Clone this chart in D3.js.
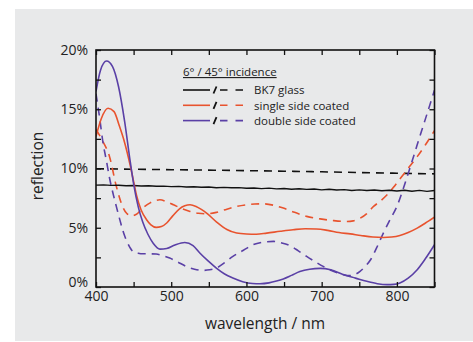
<!DOCTYPE html>
<html><head><meta charset="utf-8">
<script src="https://cdn.jsdelivr.net/npm/d3@7"></script>
<style>
html,body{margin:0;padding:0;background:#fff;}
svg{display:block;font-family:"Open Sans",sans-serif;}
</style></head>
<body>
<svg id="c" width="473" height="342"></svg>
<script>
// ---- data ----
const xTicks = [400, 500, 600, 700, 800];
const yTicks = [0, 5, 10, 15, 20];
const yTickLabels = ["0%", "5%", "10%", "15%", "20%"];
const legendTitle = "6° / 45° incidence";
const seriesNames = ["BK7 glass", "single side coated", "double side coated"];
const seriesColors = ["#111111", "#e8532e", "#5a40a6"];

const bk7SolidX = [400,410,420,430,440,450,460,470,480,490,500,510,520,530,540,550,560,570,580,590,600,610,620,630,640,650,660,670,680,690,700,710,720,730,740,750,760,770,780,790,800,810,820,830,840,850];
const bk7SolidY = [8.6,8.62,8.58,8.59,8.55,8.56,8.52,8.54,8.5,8.51,8.47,8.49,8.44,8.46,8.42,8.44,8.38,8.41,8.37,8.39,8.33,8.36,8.3,8.34,8.28,8.31,8.25,8.29,8.24,8.27,8.2,8.25,8.18,8.22,8.15,8.2,8.14,8.19,8.12,8.17,8.1,8.16,8.08,8.15,8.07,8.14];
const bk7DashX = [400, 500, 600, 700, 800, 850];
const bk7DashY = [9.98, 9.9, 9.82, 9.72, 9.6, 9.55];

const singleSolidX = [400,407,416,424,431,438,445,450,454,460,467,473,480,487,494,502,511,518,525,533,540,547,560,574,587,600,613,627,645,662,678,693,708,723,738,752,768,782,793,804,815,827,838,850];
const singleSolidY = [12.7,14.2,15.08,14.8,13.6,12.2,10.4,8.9,7.7,6.5,5.7,5.25,5.03,5.1,5.4,6.0,6.6,6.85,6.94,6.8,6.55,6.24,5.5,4.85,4.55,4.47,4.45,4.55,4.7,4.83,4.92,4.9,4.78,4.6,4.48,4.35,4.22,4.18,4.22,4.35,4.6,4.97,5.4,5.9];
const singleDashX = [400,409,418,427,436,441,447,455,462,472,485,494,503,514,525,536,547,560,574,587,600,611,622,636,649,664,680,698,716,733,742,751,760,769,778,787,796,805,816,827,838,850];
const singleDashY = [13.3,12.3,11.0,8.5,6.7,6.2,6.0,6.2,6.66,7.1,7.36,7.2,6.94,6.62,6.38,6.22,6.18,6.3,6.57,6.8,6.94,7.0,7.02,6.9,6.66,6.3,5.96,5.75,5.6,5.53,5.58,5.8,6.2,6.8,7.25,7.78,8.45,9.19,10.1,11.0,12.0,13.2];

const doubleSolidX = [400,406,414,422,430,438,445,450,456,462,469,476,485,494,505,518,529,538,549,560,571,582,595,608,618,630,640,649,660,671,684,698,712,729,745,760,774,787,796,804,815,827,838,850];
const doubleSolidY = [16.5,18.3,19.07,18.6,16.9,14.0,10.8,8.7,6.8,5.5,4.45,3.7,3.2,3.25,3.55,3.76,3.5,2.87,2.2,1.6,1.1,0.76,0.45,0.3,0.28,0.35,0.5,0.68,0.98,1.3,1.5,1.57,1.45,1.04,0.75,0.48,0.28,0.2,0.22,0.34,0.75,1.46,2.4,3.57];
const doubleDashX = [400,405,409,414,418,423,427,432,436,440,445,449,456,463,472,480,489,498,509,520,531,542,551,560,571,582,596,609,622,636,647,658,669,680,691,702,713,725,738,751,758,765,773,782,791,800,809,818,827,836,843,850];
const doubleDashY = [16.3,14.2,12.3,10.6,9.2,7.8,6.8,5.6,4.7,4.0,3.35,3.0,2.85,2.8,2.8,2.78,2.65,2.44,2.1,1.74,1.5,1.4,1.45,1.6,2.05,2.58,3.1,3.57,3.78,3.85,3.72,3.48,3.05,2.58,2.15,1.74,1.4,1.12,0.96,1.32,1.75,2.3,3.3,4.55,5.7,6.8,8.4,10.17,12.0,13.8,15.2,16.6];

// ---- layout ----
const svg = d3.select("#c");
svg.append("rect").attr("x",15).attr("y",9).attr("width",458).attr("height",332).attr("fill","#e8e9ea");

const L = 96, R = 434.5, T = 50, B = 287;
const x = d3.scaleLinear().domain([400, 850]).range([L, R]);
const y = d3.scaleLinear().domain([0, 20]).range([B, T]);

svg.append("clipPath").attr("id","clip").append("rect").attr("x",L).attr("y",T).attr("width",R-L).attr("height",B-T);

const smooth = d3.line().x(d=>x(d[0])).y(d=>y(d[1])).curve(d3.curveMonotoneX);
const straight = d3.line().x(d=>x(d[0])).y(d=>y(d[1]));
const zip = (a,b)=>a.map((v,i)=>[v,b[i]]);
const dash = "8,6";

const lines = [
  [bk7DashX, bk7DashY, 0, true],
  [singleDashX, singleDashY, 1, true],
  [doubleDashX, doubleDashY, 2, true],
  [bk7SolidX, bk7SolidY, 0, false],
  [singleSolidX, singleSolidY, 1, false],
  [doubleSolidX, doubleSolidY, 2, false]
];
const lg = svg.append("g").attr("clip-path","url(#clip)");
lines.forEach(([xs, ys, ci, d]) => {
  const gen = (ci===0 && !d) ? straight : smooth;
  lg.append("path").attr("d", gen(zip(xs, ys)))
    .attr("fill","none").attr("stroke", seriesColors[ci])
    .attr("stroke-width", ci===0 && !d ? 1.4 : 1.6)
    .attr("stroke-dasharray", d ? dash : null);
});

// axes
const xMinor = d3.range(400, 851, 50);
const yMinor = d3.range(0, 20.01, 2.5);
const axB = d3.axisBottom(x).tickValues(xMinor).tickSizeInner(-5).tickSizeOuter(0).tickFormat(d => xTicks.includes(d) ? d : "").tickPadding(8);
const axT = d3.axisTop(x).tickValues(xMinor).tickSizeInner(-5).tickSizeOuter(0).tickFormat("");
const axL = d3.axisLeft(y).tickValues(yMinor).tickSizeInner(-5).tickSizeOuter(0).tickFormat(d => { const i = yTicks.indexOf(d); return i>=0 ? yTickLabels[i] : ""; }).tickPadding(8);
const axR = d3.axisRight(y).tickValues(yMinor).tickSizeInner(-5).tickSizeOuter(0).tickFormat("");

function style(sel){
  sel.select(".domain").remove();
  sel.selectAll("line").attr("stroke","#111").attr("stroke-width",1.3);
  sel.selectAll("text").attr("fill","#222").style("font-size","14px").style("font-family","'Open Sans',sans-serif");
}
const gb = svg.append("g").attr("transform",`translate(0,${B})`).call(axB); style(gb);
gb.selectAll("text").attr("dy","0.45em");
const gt = svg.append("g").attr("transform",`translate(0,${T})`).call(axT); style(gt);
const gl = svg.append("g").attr("transform",`translate(${L},0)`).call(axL); style(gl);
gl.selectAll(".tick").filter(d=>d===0).select("text").attr("dy","-0.05em");
const gr = svg.append("g").attr("transform",`translate(${R},0)`).call(axR); style(gr);

svg.append("rect").attr("x",L).attr("y",T).attr("width",R-L).attr("height",B-T)
  .attr("fill","none").attr("stroke","#111").attr("stroke-width",1.6);

// axis titles
svg.append("text").attr("x",265).attr("y",329).attr("text-anchor","middle")
  .style("font-size","15.5px").attr("fill","#222").text("wavelength / nm");
svg.append("text").attr("transform","translate(43,166) rotate(-90)").attr("text-anchor","middle")
  .style("font-size","15.5px").attr("fill","#222").text("reflection");

// legend
const lgX = 183;
svg.append("text").attr("x",lgX).attr("y",76).style("font-size","11.5px").attr("fill","#222")
  .attr("text-decoration","underline").text(legendTitle);
seriesNames.forEach((n,i)=>{
  const yy = 90 + i*15.3;
  svg.append("line").attr("x1",lgX).attr("x2",lgX+27).attr("y1",yy).attr("y2",yy)
    .attr("stroke",seriesColors[i]).attr("stroke-width",1.6);
  svg.append("line").attr("x1",lgX+30.5).attr("x2",lgX+33.5).attr("y1",yy+3.5).attr("y2",yy-3.5)
    .attr("stroke","#111").attr("stroke-width",1.8);
  svg.append("line").attr("x1",lgX+37).attr("x2",lgX+62).attr("y1",yy).attr("y2",yy)
    .attr("stroke",seriesColors[i]).attr("stroke-width",1.6).attr("stroke-dasharray","7.5,8");
  svg.append("text").attr("x",lgX+71).attr("y",yy+4.2).style("font-size","11.5px").attr("fill","#222").text(n);
});
</script>
</body></html>
